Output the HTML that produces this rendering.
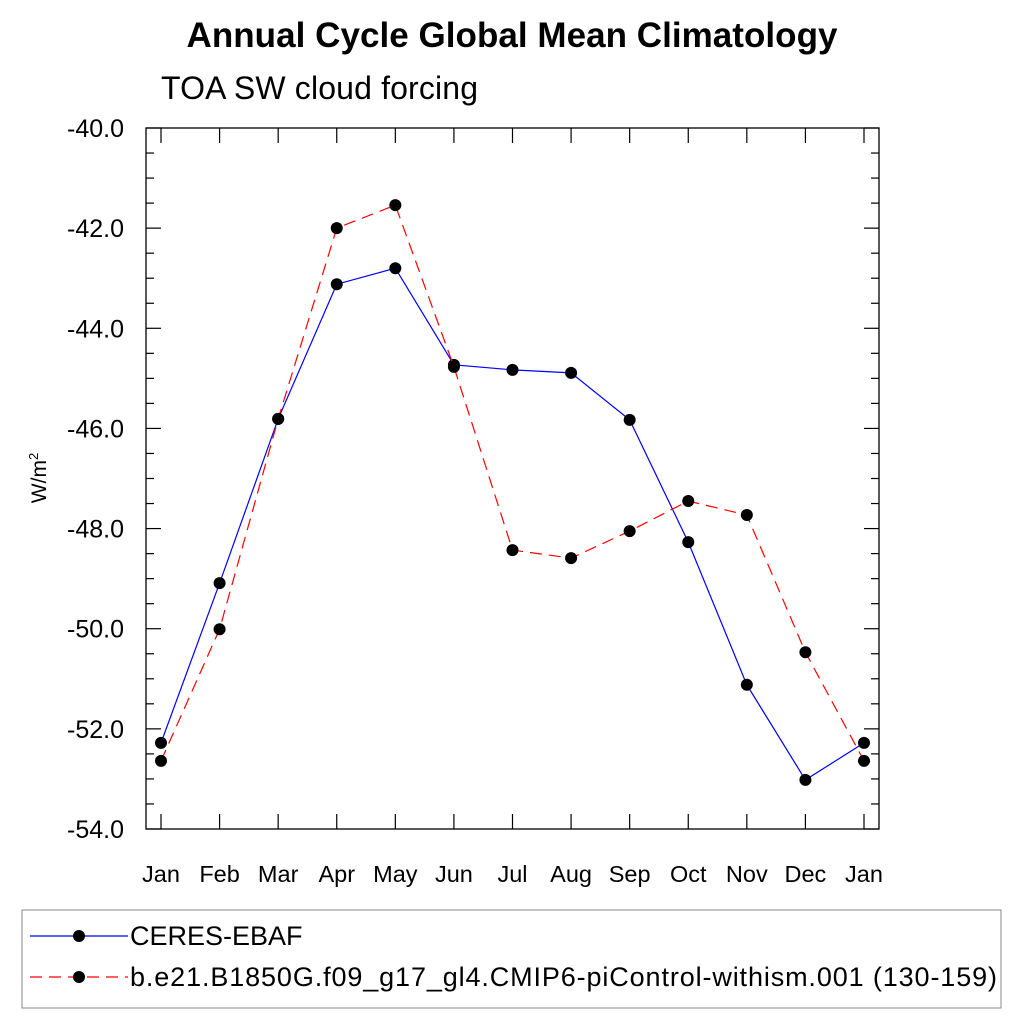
<!DOCTYPE html>
<html><head><meta charset="utf-8"><style>
body{margin:0;background:#fff;}
svg text{font-family:"Liberation Sans",Arial,sans-serif;}
</style></head><body>
<svg id="chart" width="1024" height="1024" viewBox="0 0 1024 1024">
<text x="512" y="47" text-anchor="middle" font-size="35" font-weight="bold" textLength="651">Annual Cycle Global Mean Climatology</text>
<text x="161" y="99" font-size="32" textLength="317">TOA SW cloud forcing</text>
<text transform="translate(46,478) rotate(-90)" text-anchor="middle" font-size="21">W/m<tspan dy="-8" font-size="13">2</tspan></text>
<rect x="146" y="128" width="733" height="701" fill="none" stroke="#000" stroke-width="1.3"/>
<g id="axes"></g>
<g id="series"></g>
<rect x="22" y="910" width="979" height="98" fill="none" stroke="#888" stroke-width="1"/>
<g>
<line x1="30" y1="936" x2="128" y2="936" stroke="#0000ff" stroke-width="1.2"/>
<circle cx="79" cy="936" r="6" fill="#000"/>
<text x="130" y="945" font-size="27">CERES-EBAF</text>
</g>
<g>
<line x1="30" y1="977" x2="128" y2="977" stroke="#ff0000" stroke-width="1.2" stroke-dasharray="12,7"/>
<circle cx="79" cy="977" r="6" fill="#000"/>
<text x="130" y="986" font-size="27" textLength="867">b.e21.B1850G.f09_g17_gl4.CMIP6-piControl-withism.001 (130-159)</text>
</g>
</svg>
<script>
const months = ["Jan","Feb","Mar","Apr","May","Jun","Jul","Aug","Sep","Oct","Nov","Dec","Jan"];
const ceres = [-52.28,-49.09,-45.81,-43.12,-42.80,-44.73,-44.83,-44.89,-45.83,-48.27,-51.12,-53.02,-52.28];
const model = [-52.64,-50.01,-45.81,-42.00,-41.54,-44.77,-48.43,-48.59,-48.05,-47.45,-47.73,-50.47,-52.64];
const yTicks = [-40,-42,-44,-46,-48,-50,-52,-54];
const NS="http://www.w3.org/2000/svg";
const X0=146,X1=879,Y0=128,Y1=829;
function xs(i){return 161+i*(864-161)/12;}
function ys(v){return Y0+(-40-v)*(Y1-Y0)/14;}
const ax=document.getElementById('axes');
function mk(tag,attrs,parent){const e=document.createElementNS(NS,tag);for(const k in attrs)e.setAttribute(k,attrs[k]);parent.appendChild(e);return e;}
for(let v=-40;v>=-54;v-=0.5){
  const y=ys(v);const major=Math.abs(v%2)<1e-9;const L=major?15:8;
  const t1=mk('line',{x1:X0,y1:y,x2:X0+L,y2:y,stroke:'#000','stroke-width':1.2},ax);
  
  
  const t2=mk('line',{x1:X1,y1:y,x2:X1-L,y2:y,stroke:'#000','stroke-width':1.2},ax);
  
  
}
yTicks.forEach(v=>{
  const t=mk('text',{x:124,y:ys(v)+9,'text-anchor':'end','font-size':25},ax);
  t.textContent=v.toFixed(1);
  
  
});
months.forEach((m,i)=>{
  const x=xs(i);
  const a=mk('line',{x1:x,y1:Y1,x2:x,y2:Y1-15,stroke:'#000','stroke-width':1.2},ax);
  
  
  const b=mk('line',{x1:x,y1:Y0,x2:x,y2:Y0+15,stroke:'#000','stroke-width':1.2},ax);
  
  
  const t=mk('text',{x:x,y:882,'text-anchor':'middle','font-size':23.5},ax);
  t.textContent=m;
  
  
});
const sg=document.getElementById('series');
function draw(vals,color,dash,name){
  const g=mk('g',{},sg);
  
  
  const pts=vals.map((v,i)=>xs(i)+','+ys(v)).join(' ');
  const attrs={points:pts,fill:'none',stroke:color,'stroke-width':1.2};
  if(dash)attrs['stroke-dasharray']=dash;
  const l=mk('polyline',attrs,g);
  
  
  vals.forEach((v,i)=>{
    const c=mk('circle',{cx:xs(i),cy:ys(v),r:6,fill:'#000'},g);
    
    
  });
}
draw(ceres,'#0000ff',null,'ceres-series');
draw(model,'#ff0000','12,7','model-series');
</script>
</body></html>
